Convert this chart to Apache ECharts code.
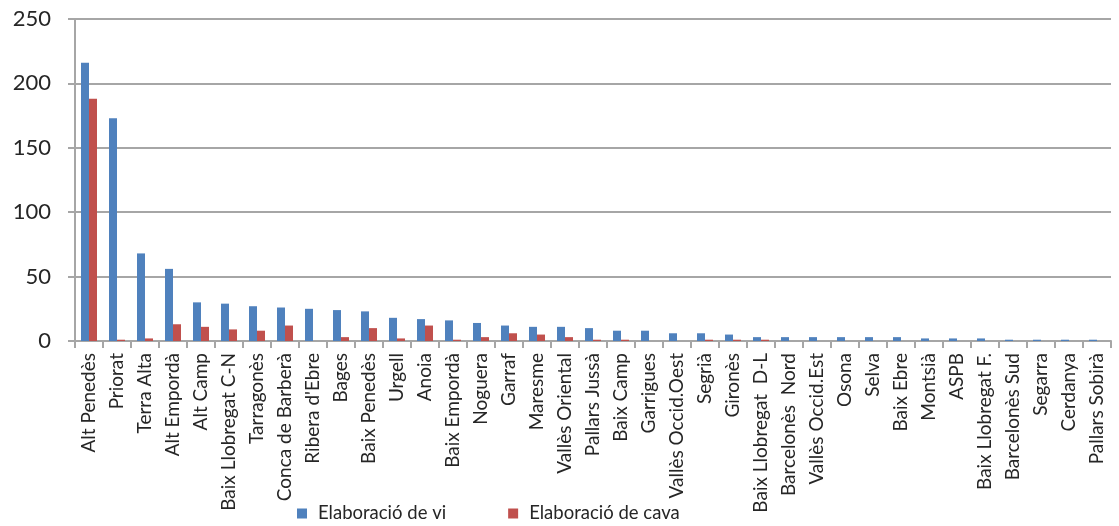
<!DOCTYPE html>
<html>
<head>
<meta charset="utf-8">
<title>Elaboració de vi i cava per comarques</title>
<script src="https://cdn.jsdelivr.net/npm/echarts@6/dist/echarts.min.js"></script>
<style>
  html, body { margin: 0; padding: 0; background: #ffffff; }
  #chart { width: 1119px; height: 526px; }
</style>
</head>
<body>
<div id="chart"></div>
<script>
// Comarques (ordered by wine production)
const categories = [
  "Alt Penedès", "Priorat", "Terra Alta", "Alt Empordà", "Alt Camp",
  "Baix Llobregat C-N", "Tarragonès", "Conca de Barberà", "Ribera d'Ebre", "Bages",
  "Baix Penedès", "Urgell", "Anoia", "Baix Empordà", "Noguera",
  "Garraf", "Maresme", "Vallès Oriental", "Pallars Jussà", "Baix Camp",
  "Garrigues", "Vallès Occid.Oest", "Segrià", "Gironès", "Baix Llobregat  D-L",
  "Barcelonès  Nord", "Vallès Occid.Est", "Osona", "Selva", "Baix Ebre",
  "Montsià", "ASPB", "Baix Llobregat F.", "Barcelonès Sud", "Segarra",
  "Cerdanya", "Pallars Sobirà"
];

const seriesNames = ["Elaboració de vi", "Elaboració de cava"];

const elaboracioVi = [
  216, 173, 68, 56, 30,
  29, 27, 26, 25, 24,
  23, 18, 17, 16, 14,
  12, 11, 11, 10, 8,
  8, 6, 6, 5, 3,
  3, 3, 3, 3, 3,
  2, 2, 2, 1, 1,
  1, 1
];

const elaboracioCava = [
  188, 1, 2, 13, 11,
  9, 8, 12, 0, 3,
  10, 2, 12, 1, 3,
  6, 5, 3, 1, 1,
  0, 0, 1, 1, 1,
  0, 0, 0, 0, 0,
  0, 0, 0, 0, 0,
  0, 0
];

const yTicks = { min: 0, max: 250, interval: 50 };

const FONT = "Lato, 'Noto Sans', sans-serif";
const TEXT = "#262626";
const GRID = "#a6a6a6";

const chart = echarts.init(document.getElementById("chart"), null, { renderer: "canvas" });

chart.setOption({
  animation: false,
  backgroundColor: "#ffffff",
  textStyle: { fontFamily: FONT, color: TEXT },
  grid: { left: 75, right: 8, top: 19, bottom: 185, containLabel: false },
  legend: {
    top: 504,
    left: 297,
    padding: 0,
    icon: "rect",
    itemWidth: 10,
    itemHeight: 10,
    itemGap: 62,
    textStyle: { fontFamily: FONT, fontSize: 18.5, color: TEXT, padding: [0, 0, 0, 6] },
    data: seriesNames
  },
  xAxis: {
    type: "category",
    data: categories,
    boundaryGap: true,
    axisLine: { show: true, lineStyle: { color: GRID, width: 2 } },
    axisTick: { show: true, length: 7, alignWithLabel: false, interval: 0, lineStyle: { color: GRID, width: 2 } },
    axisLabel: {
      interval: 0,
      rotate: 90,
      margin: 12,
      fontFamily: FONT,
      fontSize: 19,
      color: TEXT
    },
    splitLine: { show: false }
  },
  yAxis: {
    type: "value",
    min: yTicks.min,
    max: yTicks.max,
    interval: yTicks.interval,
    axisLine: { show: true, lineStyle: { color: GRID, width: 2 } },
    axisTick: { show: true, length: 7, lineStyle: { color: GRID, width: 2 } },
    axisLabel: { margin: 24, fontFamily: FONT, fontSize: 22, color: TEXT },
    splitLine: { show: true, lineStyle: { color: GRID, width: 2 } }
  },
  series: [
    {
      name: seriesNames[0],
      type: "bar",
      data: elaboracioVi,
      barWidth: 8,
      barGap: "0%",
      itemStyle: { color: "#4f81bd" }
    },
    {
      name: seriesNames[1],
      type: "bar",
      data: elaboracioCava,
      barWidth: 8,
      itemStyle: { color: "#c0504d" }
    }
  ]
});
</script>
</body>
</html>
